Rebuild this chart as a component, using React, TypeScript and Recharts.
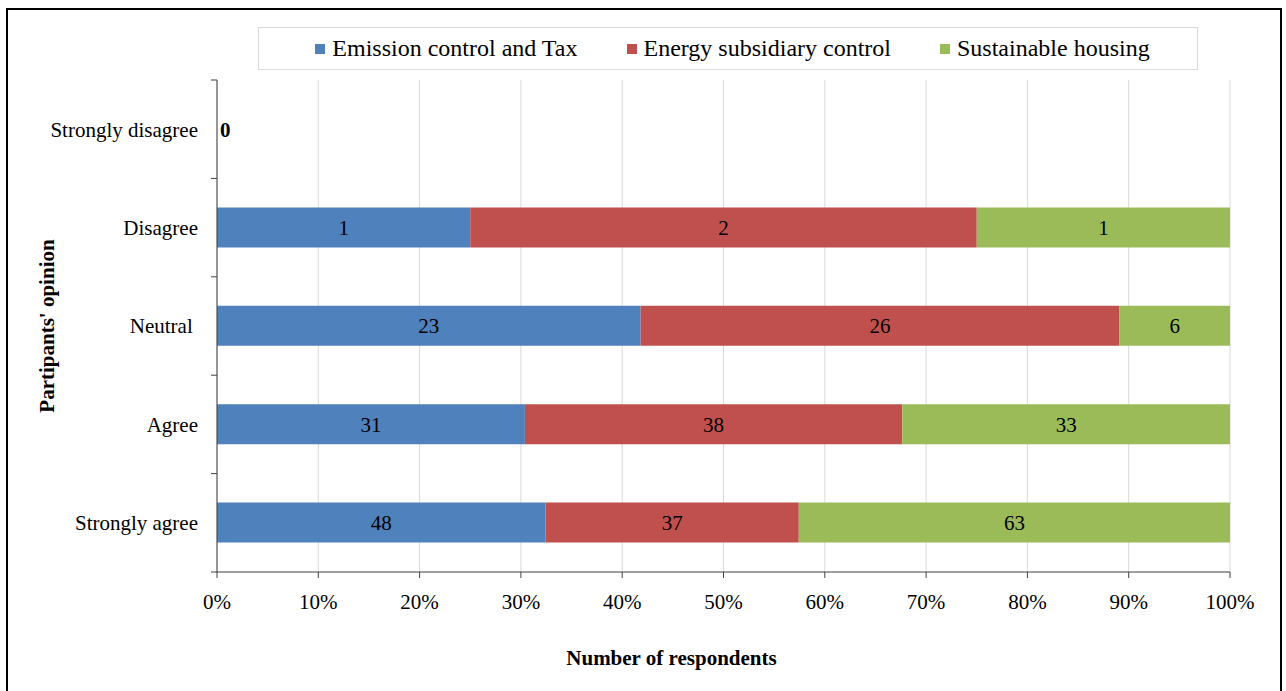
import { Bar, BarChart, CartesianGrid, LabelList, Legend, XAxis, YAxis } from "recharts"

const opinions = ["Strongly disagree", "Disagree", "Neutral ", "Agree", "Strongly agree"]
const emissionControl = [0, 1, 23, 31, 48]
const energySubsidy = [0, 2, 26, 38, 37]
const sustainableHousing = [0, 1, 6, 33, 63]
const percentTicks = [0, 0.1, 0.2, 0.3, 0.4, 0.5, 0.6, 0.7, 0.8, 0.9, 1]

const series = [
  { key: "emission", name: "Emission control and Tax", color: "#4F81BD" },
  { key: "energy", name: "Energy subsidiary control", color: "#C0504D" },
  { key: "housing", name: "Sustainable housing", color: "#9BBB59" },
]

const data = opinions.map((name, i) => ({
  name,
  emission: emissionControl[i],
  energy: energySubsidy[i],
  housing: sustainableHousing[i],
}))

const FONT = "'Liberation Serif', 'Times New Roman', serif"
const W = 1286
const H = 691
const M = { top: 80, right: 56, left: 0, bottom: 0 }
const Y_AXIS_W = 217
const X_AXIS_H = 119
const PLOT_H = H - M.top - M.bottom - X_AXIS_H
const BAND = PLOT_H / opinions.length
const TICK_SIZE = 6
const TICK_MARGIN = 13

// category ticks sit between bands (Excel style); an all-zero row gets a bold "0" at the axis
function CategoryTick(props: any) {
  const { x, y, payload, index } = props
  const axisX = x + TICK_MARGIN + TICK_SIZE
  const last = index === opinions.length - 1
  const row = data[index]
  const empty = row && row.emission + row.energy + row.housing === 0
  return (
    <g>
      <line x1={axisX - TICK_SIZE} x2={axisX} y1={y - BAND / 2} y2={y - BAND / 2} stroke="#404040" />
      {last && <line x1={axisX - TICK_SIZE} x2={axisX} y1={y + BAND / 2} y2={y + BAND / 2} stroke="#404040" />}
      <text x={x} y={y} dy="0.35em" textAnchor="end" fontSize={21} fontFamily={FONT} fill="#000" style={{ whiteSpace: "pre" }}>
        {payload.value}
      </text>
      {empty && (
        <text x={axisX + 3} y={y} dy="0.35em" textAnchor="start" fontSize={21} fontWeight="bold" fontFamily={FONT} fill="#000">
          {row.emission}
        </text>
      )}
    </g>
  )
}

function BarValue(props: any) {
  const { x, y, width, height, value } = props
  if (!value) return null
  return (
    <text x={x + width / 2} y={y + height / 2} dy="0.35em" textAnchor="middle" fontSize={21} fontFamily={FONT} fill="#000">
      {value}
    </text>
  )
}

function LegendBox() {
  return (
    <div
      style={{
        boxSizing: "border-box",
        width: "100%",
        height: "100%",
        border: "1px solid #d9d9d9",
        background: "#fff",
        display: "flex",
        alignItems: "center",
        justifyContent: "center",
        gap: 49,
        paddingLeft: 9,
        fontFamily: FONT,
        fontSize: 24,
        color: "#000",
      }}
    >
      {series.map((s) => (
        <div key={s.key} style={{ display: "flex", alignItems: "center", gap: 7 }}>
          <span style={{ display: "inline-block", width: 10, height: 10, background: s.color }} />
          <span>{s.name}</span>
        </div>
      ))}
    </div>
  )
}

export default function App() {
  return (
    <div style={{ position: "absolute", left: 0, top: 0, width: W, height: H, background: "#fff", overflow: "hidden" }}>
      <BarChart
        width={W}
        height={H}
        data={data}
        layout="vertical"
        stackOffset="expand"
        barSize={40}
        margin={M}
      >
        <CartesianGrid horizontal={false} stroke="#d9d9d9" />
        <XAxis
          type="number"
          domain={[0, 1]}
          ticks={percentTicks}
          tickFormatter={(v: number) => `${Math.round(v * 100)}%`}
          height={X_AXIS_H}
          stroke="#404040"
          tickSize={TICK_SIZE}
          tickMargin={16}
          tick={{ fill: "#000", fontSize: 21, fontFamily: FONT }}
          label={{
            value: "Number of respondents",
            position: "insideBottom",
            offset: 26,
            dx: -52,
            fill: "#000",
            fontSize: 21,
            fontWeight: "bold",
            fontFamily: FONT,
          }}
        />
        <YAxis
          type="category"
          dataKey="name"
          width={Y_AXIS_W}
          stroke="#404040"
          tickLine={false}
          tickSize={TICK_SIZE}
          tickMargin={TICK_MARGIN}
          tick={<CategoryTick />}
          label={{
            value: "Partipants' opinion",
            angle: -90,
            position: "center",
            dx: -62,
            fill: "#000",
            fontSize: 21,
            fontWeight: "bold",
            fontFamily: FONT,
          }}
        />
        <Legend
          verticalAlign="middle"
          align="center"
          layout="horizontal"
          wrapperStyle={{ top: 27, left: 258, width: 940, height: 43 }}
          content={() => <LegendBox />}
        />
        {series.map((s) => (
          <Bar key={s.key} dataKey={s.key} name={s.name} stackId="a" fill={s.color} isAnimationActive={false}>
            <LabelList dataKey={s.key} content={BarValue} />
          </Bar>
        ))}
      </BarChart>
      <div
        style={{
          position: "absolute",
          left: 6,
          top: 8,
          width: 1276,
          height: 720,
          boxSizing: "border-box",
          border: "2px solid #000",
          pointerEvents: "none",
        }}
      />
    </div>
  )
}
